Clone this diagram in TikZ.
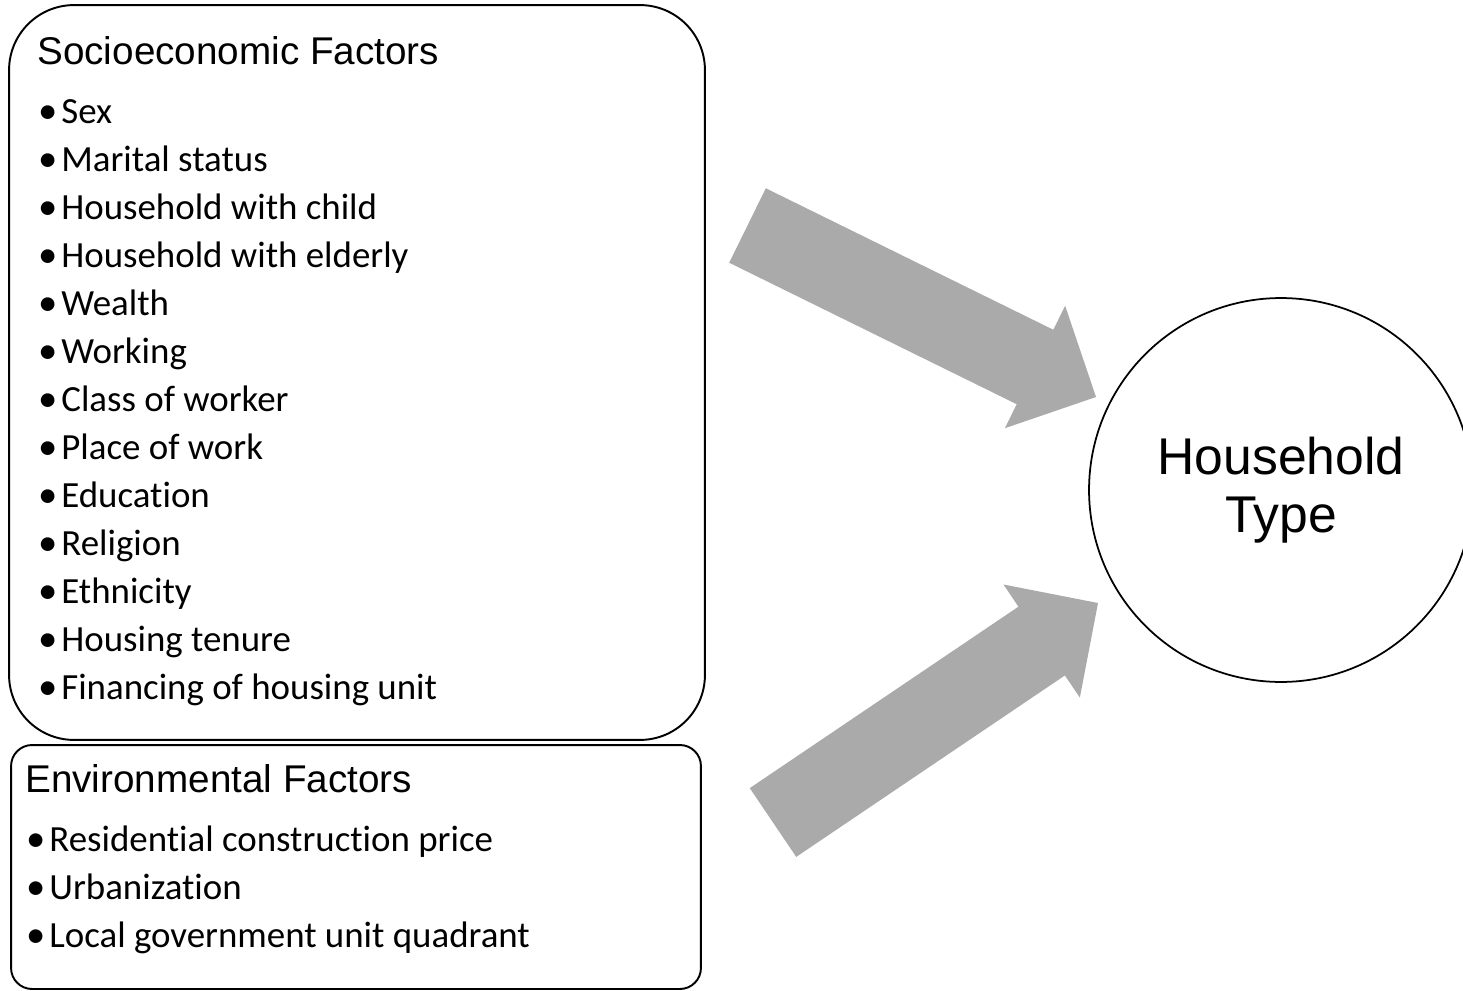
\documentclass[tikz,border=0pt]{standalone}
\usepackage{fontspec}
\setmainfont{Liberation Sans}
\newfontfamily\itemfont[Ligatures=NoCommon]{Carlito}
\usetikzlibrary{arrows.meta,positioning}
\definecolor{arrowgray}{RGB}{170,170,170}
\tikzset{
	factorbox/.style={draw=black,line width=1.1pt,rounded corners=1.3cm,inner sep=0pt},
	envbox/.style={draw=black,line width=1.1pt,rounded corners=0.42cm,inner sep=0pt},
	htitle/.style={anchor=base west,inner sep=0pt,font=\fontsize{22}{26}\selectfont},
	hitem/.style={anchor=base west,inner sep=0pt,font=\itemfont\fontsize{21}{25}\selectfont},
	outcome/.style={circle,draw=black,line width=1pt,minimum size=7.68cm,align=center,font=\fontsize{29.4}{33}\selectfont},
	bigarrow/.style={draw=arrowgray,line width=1.66cm,-{Triangle[length=1.36cm,width=2.72cm,line width=1.5pt]}}}
\newcommand{\bul}{\makebox[0.46cm][l]{\fontsize{22}{25}\selectfont•}}

\begin{document}
\begin{tikzpicture}[x=0.02cm,y=-0.02cm]
	\useasboundingbox (0,0) rectangle (1463,990);
	\node (soc) at (357,372.5) [factorbox,minimum width=13.92cm,minimum height=14.7cm] {};
	\node (env) at (356,867) [envbox,minimum width=13.8cm,minimum height=4.88cm] {};
	\node (hh) at (1281,490) [outcome] {Household\\Type};
	\node (T1) at (37,65) [htitle] {Socioeconomic Factors};
	\node (S1) at (38,123) [hitem] {\bul Sex};
	\node (S2) at (38,171) [hitem] {\bul Marital status};
	\node (S3) at (38,219) [hitem] {\bul Household with child};
	\node (S4) at (38,267) [hitem] {\bul Household with elderly};
	\node (S5) at (38,315) [hitem] {\bul Wealth};
	\node (S6) at (38,363) [hitem] {\bul Working};
	\node (S7) at (38,411) [hitem] {\bul Class of worker};
	\node (S8) at (38,459) [hitem] {\bul Place of work};
	\node (S9) at (38,507) [hitem] {\bul Education};
	\node (S10) at (38,555) [hitem] {\bul Religion};
	\node (S11) at (38,603) [hitem] {\bul Ethnicity};
	\node (S12) at (38,651) [hitem] {\bul Housing tenure};
	\node (S13) at (38,699) [hitem] {\bul Financing of housing unit};
	\node (T2) at (25,792) [htitle] {Environmental Factors};
	\node (E1) at (26,851) [hitem] {\bul Residential construction price};
	\node (E2) at (26,899) [hitem] {\bul Urbanization};
	\node (E3) at (26,947) [hitem] {\bul Local government unit quadrant};
	\coordinate (a1) at (747.5,225.5);
	\coordinate (b1) at (1096,397);
	\coordinate (a2) at (773,822.5);
	\coordinate (b2) at (1098,603);
	\draw[bigarrow] (a1) -- (b1);
	\draw[bigarrow] (a2) -- (b2);
\end{tikzpicture}
\end{document}
